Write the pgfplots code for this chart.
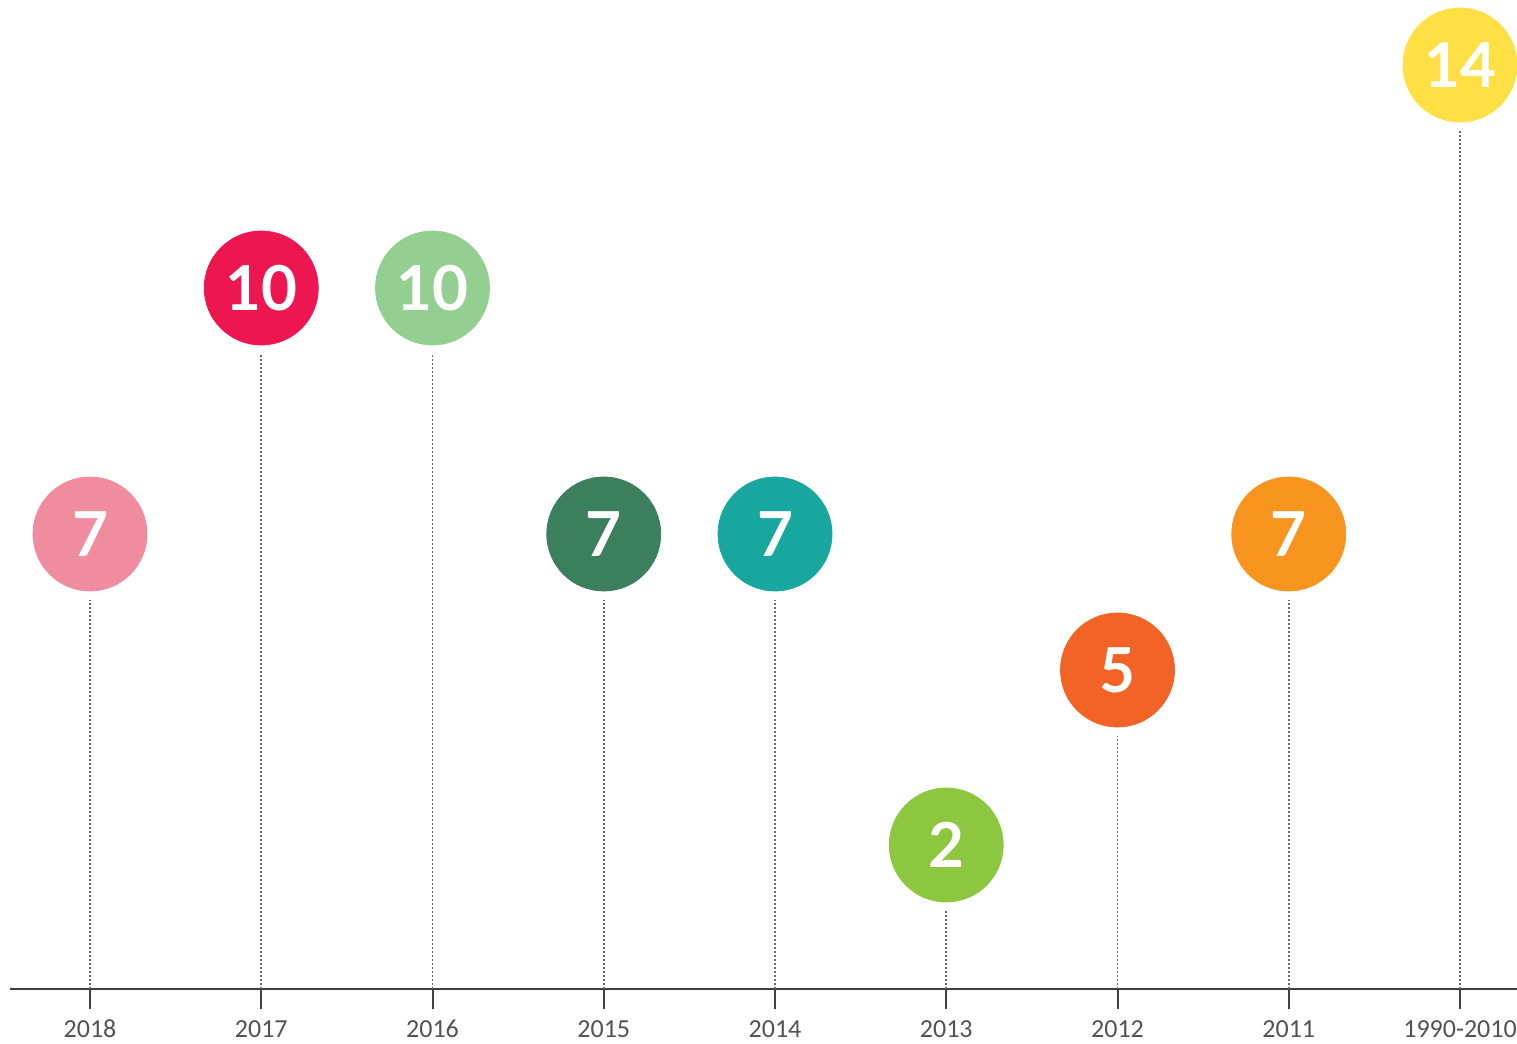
\documentclass[border=0pt]{standalone}
\usepackage{pgfplots}
\pgfplotsset{compat=1.18}
\usepackage{pgfplotstable}
\usepackage{fontspec}
\setmainfont{Carlito}[Numbers=Lining]
\newfontfamily\numfont{Lato}
\definecolor{ca}{HTML}{F08CA0}
\definecolor{cb}{HTML}{EE1650}
\definecolor{cc}{HTML}{94CF92}
\definecolor{cd}{HTML}{3C7F5F}
\definecolor{ce}{HTML}{17A79E}
\definecolor{cf}{HTML}{8DC63F}
\definecolor{cg}{HTML}{F26325}
\definecolor{ch}{HTML}{F7941E}
\definecolor{ci}{HTML}{FFE044}
\pgfplotstableread{
x pos val
0 455 7
1 701 10
2 701 10
3 455 7
4 455 7
5 144 2
6 319 5
7 455 7
8 924 14
}\datatable
\pgfplotsset{pin/.style={only marks, mark=*, mark size=28.5pt, draw=#1, fill=#1,
  nodes near coords, point meta=explicit symbolic, nodes near coords align=center,
  every node near coord/.append style={anchor=center, text=white, font=\fontsize{31}{31}\selectfont\numfont\bfseries, inner sep=0pt}}}
\begin{document}
\begin{tikzpicture}
\begin{axis}[
 at={(0,0)}, anchor=south west,
 scale only axis, width=753.5pt, height=494.5pt,
 xmin=-0.4672, xmax=8.3328, ymin=0, ymax=989,
 axis x line=bottom, axis y line=none,
 axis line style={-, draw=black!75, line width=1pt},
 xtick={0,...,8}, xticklabels={2018,2017,2016,2015,2014,2013,2012,2011,1990-2010},
 tick align=outside, major tick length=10pt, tick style={black!75, line width=1pt},
 xticklabel style={font=\fontsize{13}{15}\selectfont, text=black!68, anchor=north, inner sep=0pt, text height=9pt, text depth=0pt, yshift=-5pt},
 clip=false,
]
\addplot[ycomb, draw=black!60, line width=0.8pt, dash pattern=on 0.8pt off 1.2pt, mark=none] table[x=x, y expr=\thisrow{pos}-66] {\datatable};
\addplot[pin=ca] coordinates {(0,455) [7]};
\addplot[pin=cb] coordinates {(1,701) [10]};
\addplot[pin=cc] coordinates {(2,701) [10]};
\addplot[pin=cd] coordinates {(3,455) [7]};
\addplot[pin=ce] coordinates {(4,455) [7]};
\addplot[pin=cf] coordinates {(5,144) [2]};
\addplot[pin=cg] coordinates {(6,319) [5]};
\addplot[pin=ch] coordinates {(7,455) [7]};
\addplot[pin=ci] coordinates {(8,924) [14]};
\end{axis}
\pgfresetboundingbox
\path[use as bounding box] (-5pt,-27.5pt) rectangle (753.5pt,494.5pt);
\end{tikzpicture}
\end{document}
